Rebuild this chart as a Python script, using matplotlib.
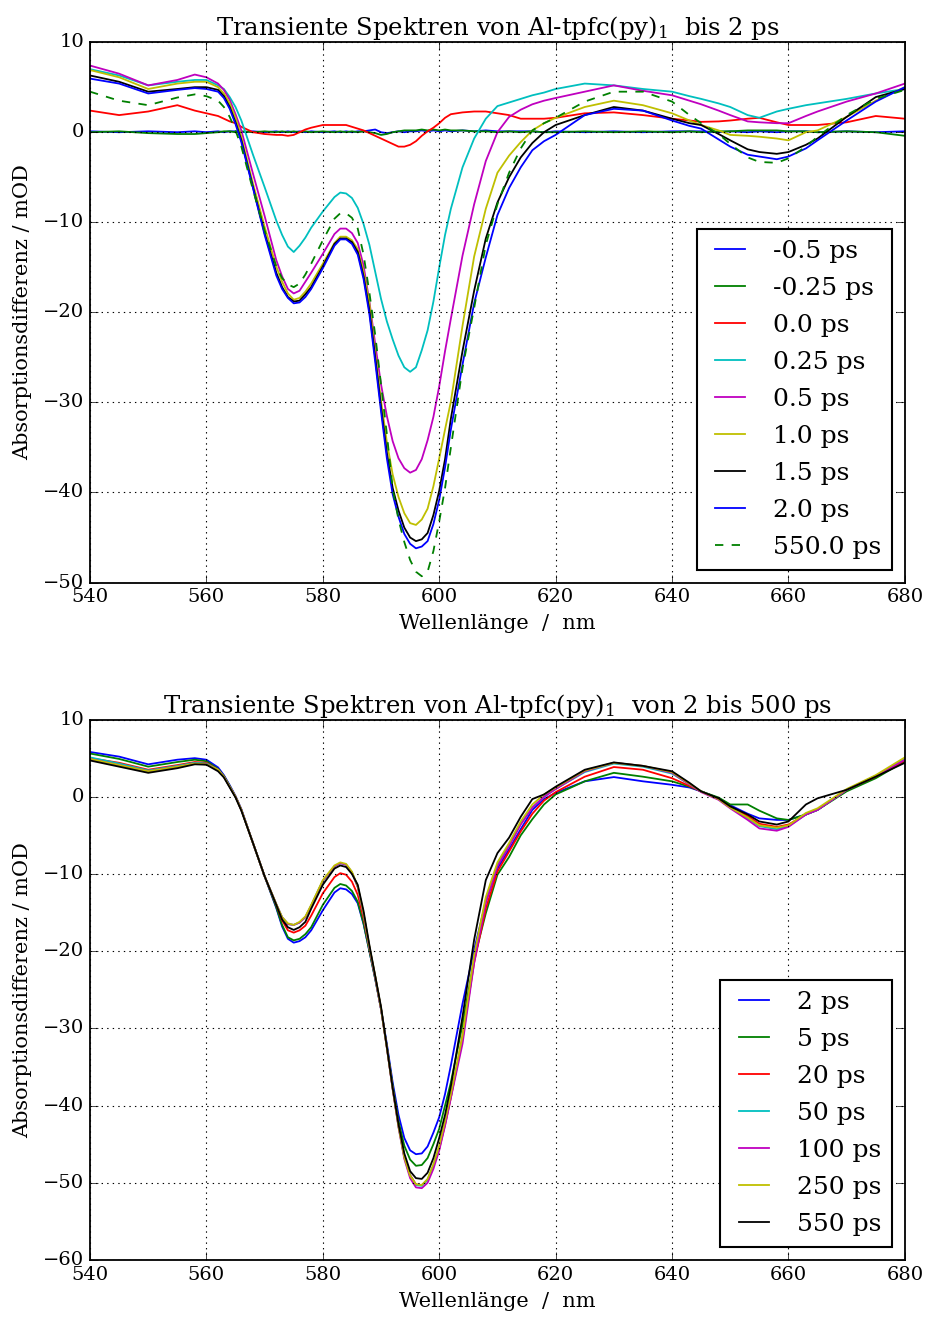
import numpy as np
import matplotlib
matplotlib.use("Agg")
import matplotlib.pyplot as plt

plt.style.use("classic")
plt.rcParams["font.family"] = ["DejaVu Serif"]
plt.rcParams["mathtext.fontset"] = "dejavuserif"
plt.rcParams["font.size"] = 14
plt.rcParams["savefig.facecolor"] = "white"
plt.rcParams["figure.facecolor"] = "white"

# wavelength grid (nm), shared by every spectrum
wl = [540, 545, 550, 555, 558, 560,
      562, 563, 564, 565, 566,
      568, 570, 572, 573, 574, 575, 576, 577, 578,
      580, 582, 583, 584, 585, 586, 587, 588, 589, 590,
      591, 592, 593, 594, 595, 596, 597, 598, 599, 600, 601, 602,
      604, 606, 608, 610, 612, 614, 616, 618, 620,
      625, 630, 635, 640, 643, 645, 648, 650, 653, 655, 658, 660, 663, 665, 670, 675, 680]

# ---- top panel: up to 2 ps (mOD) ----
t_m050 = [0.1, 0.0, 0.1, 0.0, 0.1, 0.0,
          0.1, 0.0, 0.1, 0.1, 0.0,
          0.1, 0.0, 0.1, 0.0, 0.1, 0.0, 0.1, 0.0, 0.1,
          0.0, 0.1, 0.0, 0.1, 0.0, 0.1, 0.1, 0.2, 0.3, 0.0,
          -0.1, 0.0, 0.1, 0.0, 0.1, 0.1, 0.2, 0.1, 0.2, 0.1, 0.2, 0.1,
          0.2, 0.1, 0.2, 0.1, 0.1, 0.1, 0.1, 0.0, 0.1,
          0.0, 0.1, 0.0, 0.1, 0.1, 0.1, 0.0, 0.1, 0.0, 0.1, 0.0, 0.1, 0.1, 0.0, 0.1, 0.0, 0.1]
t_m025 = [0.0, 0.1, -0.1, -0.2, -0.2, -0.1,
          0.0, 0.1, 0.1, 0.0, 0.1,
          0.0, 0.1, 0.0, 0.1, 0.0, 0.1, 0.0, 0.1, 0.0,
          0.1, 0.0, 0.1, 0.0, 0.1, 0.0, 0.1, 0.0, -0.1, -0.3,
          -0.2, 0.0, 0.1, 0.2, 0.2, 0.2, 0.3, 0.2, 0.3, 0.2, 0.3, 0.2,
          0.2, 0.1, 0.1, 0.0, 0.1, 0.0, 0.1, 0.0, 0.0,
          0.1, 0.0, 0.1, 0.0, 0.1, 0.0, 0.1, 0.1, 0.2, 0.2, 0.2, 0.1, 0.1, 0.0, 0.1, 0.0, -0.4]
t_000 = [2.4, 1.9, 2.3, 3.0, 2.4, 2.1,
         1.8, 1.5, 1.2, 1.0, 0.6,
         0.0, -0.2, -0.3, -0.3, -0.4, -0.3, 0.0, 0.3, 0.5,
         0.8, 0.8, 0.8, 0.8, 0.6, 0.4, 0.2, -0.1, -0.4, -0.7,
         -1.0, -1.3, -1.6, -1.6, -1.4, -1.0, -0.4, 0.1, 0.5, 1.0, 1.6, 2.0,
         2.2, 2.3, 2.3, 2.1, 1.9, 1.5, 1.5, 1.5, 1.6,
         2.1, 2.2, 1.9, 1.5, 1.3, 1.15, 1.2, 1.3, 1.5, 1.6, 1.1, 0.8, 0.8, 0.8, 1.1, 1.8, 1.5]
t_025 = [7.0, 6.3, 5.2, 5.6, 5.8, 5.8,
         5.2, 4.8, 3.9, 2.8, 1.3,
         -2.5, -6.1, -9.8, -11.4, -12.7, -13.3, -12.6, -11.7, -10.6,
         -8.8, -7.2, -6.7, -6.8, -7.3, -8.4, -10.2, -12.5, -15.5, -18.5,
         -21.0, -23.0, -24.8, -26.1, -26.6, -26.1, -24.2, -22.0, -18.8, -15.0, -11.4, -8.5,
         -3.9, -0.7, 1.5, 2.9, 3.3, 3.7, 4.1, 4.4, 4.8,
         5.4, 5.2, 4.8, 4.5, 4.0, 3.7, 3.2, 2.8, 1.9, 1.6, 2.3, 2.6, 3.0, 3.2, 3.7, 4.3, 4.8]
t_050 = [7.4, 6.5, 5.2, 5.8, 6.4, 6.1,
         5.4, 4.7, 3.6, 2.0, 0.2,
         -4.6, -9.3, -14.2, -16.0, -17.4, -17.9, -17.6, -16.6, -15.6,
         -13.5, -11.3, -10.7, -10.7, -11.2, -12.3, -14.8, -18.8, -23.5, -28.0,
         -31.5, -34.3, -36.2, -37.3, -37.8, -37.5, -36.3, -34.2, -31.6, -28.2, -24.3, -20.7,
         -13.7, -8.0, -3.2, 0.0, 1.7, 2.5, 3.1, 3.5, 3.8,
         4.5, 5.2, 4.6, 4.1, 3.5, 3.1, 2.4, 1.9, 1.2, 1.1, 1.0, 1.0, 1.8, 2.3, 3.4, 4.3, 5.4]
t_100 = [6.9, 6.1, 4.8, 5.4, 5.6, 5.6,
         5.0, 4.3, 3.2, 1.6, -0.5,
         -5.7, -10.5, -14.9, -16.6, -17.9, -18.6, -18.4, -17.7, -16.8,
         -14.6, -12.3, -11.6, -11.6, -12.0, -13.0, -15.5, -19.0, -24.5, -29.8,
         -34.4, -38.0, -40.5, -42.3, -43.4, -43.6, -43.0, -41.8, -39.3, -36.2, -33.0, -29.9,
         -21.5, -13.8, -8.5, -4.5, -2.6, -1.1, 0.2, 1.0, 1.6,
         2.8, 3.5, 3.0, 2.1, 1.3, 0.8, 0.2, -0.3, -0.4, -0.5, -0.7, -0.9, 0.0, 0.2, 1.7, 3.5, 5.0]
t_150 = [6.3, 5.6, 4.5, 4.8, 5.0, 5.0,
         4.7, 4.0, 2.8, 1.1, -0.9,
         -6.1, -11.2, -15.6, -17.2, -18.3, -18.8, -18.7, -18.0, -17.2,
         -14.9, -12.4, -11.8, -11.8, -12.2, -13.3, -16.0, -19.8, -25.0, -30.5,
         -35.6, -39.5, -42.0, -43.9, -45.0, -45.4, -45.2, -44.5, -42.5, -39.8, -36.3, -31.8,
         -24.3, -17.6, -11.8, -7.8, -5.0, -2.8, -1.2, 0.0, 0.8,
         1.9, 2.8, 2.4, 1.5, 1.0, 0.8, -0.2, -0.9, -1.9, -2.2, -2.4, -2.2, -1.4, -0.7, 1.7, 3.9, 4.8]
t_200 = [5.95, 5.4, 4.3, 4.7, 4.9, 4.8,
         4.5, 3.8, 2.6, 0.9, -1.1,
         -6.2, -11.4, -15.9, -17.4, -18.4, -19.0, -18.9, -18.3, -17.4,
         -15.1, -12.6, -11.9, -11.9, -12.4, -13.6, -16.3, -20.2, -25.5, -31.0,
         -36.2, -40.2, -42.7, -44.6, -45.7, -46.2, -46.0, -45.4, -43.5, -40.8, -37.2, -33.0,
         -25.8, -19.0, -13.9, -9.2, -6.2, -3.9, -2.0, -1.0, -0.3,
         1.9, 2.6, 2.4, 1.3, 0.7, 0.4, -0.8, -1.6, -2.5, -2.7, -3.0, -2.7, -1.8, -0.9, 1.3, 3.4, 5.0]
t_5500 = [4.5, 3.5, 3.0, 3.85, 4.2, 4.0,
          3.5, 2.8, 1.7, 0.2, -1.6,
          -6.4, -10.9, -14.9, -16.2, -16.9, -17.2, -16.8, -15.8, -14.6,
          -12.0, -9.6, -9.0, -9.0, -9.5, -10.7, -13.6, -17.8, -22.5, -28.0,
          -33.5, -39.6, -43.0, -45.5, -47.5, -48.8, -49.3, -48.8, -46.5, -43.2, -39.5, -35.0,
          -26.2, -19.5, -12.5, -8.0, -4.5, -1.8, 0.2, 1.0, 1.6,
          3.4, 4.5, 4.5, 3.4, 1.9, 1.0, -0.2, -1.3, -2.8, -3.3, -3.4, -2.9, -1.6, -0.5, 1.9, 3.7, 4.7]

top_labels = ["-0.5 ps", "-0.25 ps", "0.0 ps", "0.25 ps", "0.5 ps",
              "1.0 ps", "1.5 ps", "2.0 ps", "550.0 ps"]
top_series = [t_m050, t_m025, t_000, t_025, t_050, t_100, t_150, t_200, t_5500]
top_colors = ["b", "g", "r", "c", "m", "y", "k", "b", "g"]

# ---- bottom panel: 2 to 550 ps (mOD) ----
b_2 = [5.8, 5.2, 4.2, 4.8, 5.0, 4.8,
       3.8, 2.8, 1.5, 0.1, -1.6,
       -6.0, -10.3, -14.4, -16.8, -18.4, -18.9, -18.7, -18.2, -17.3,
       -14.7, -12.4, -11.85, -12.0, -12.6, -13.8, -16.5, -20.0, -23.6, -27.5,
       -32.0, -37.0, -41.2, -44.2, -45.8, -46.3, -46.2, -45.3, -43.5, -41.5, -38.5, -34.8,
       -26.8, -19.8, -13.6, -9.3, -6.8, -4.2, -1.7, -0.3, 0.5,
       2.0, 2.55, 2.0, 1.55, 1.2, 0.7, -0.2, -1.1, -2.2, -2.8, -3.0, -3.0, -2.3, -1.7, 0.9, 2.6, 4.8]
b_5 = [5.6, 4.9, 3.9, 4.5, 4.8, 4.6,
       3.6, 2.7, 1.4, 0.0, -1.7,
       -6.0, -10.3, -14.3, -16.6, -18.2, -18.6, -18.4, -17.8, -16.9,
       -14.0, -11.8, -11.3, -11.5, -12.2, -13.6, -16.4, -20.0, -23.6, -27.5,
       -32.3, -37.4, -42.0, -45.2, -47.0, -47.8, -47.7, -46.8, -45.0, -43.0, -40.0, -37.0,
       -29.5, -21.0, -15.1, -10.1, -7.8, -5.0, -2.9, -1.0, 0.3,
       2.0, 3.1, 2.6, 2.0, 1.3, 0.7, -0.1, -1.0, -1.0, -1.8, -2.8, -3.0, -2.3, -1.7, 0.7, 2.4, 4.6]
b_20 = [5.0, 4.4, 3.5, 4.1, 4.5, 4.4,
        3.5, 2.6, 1.3, 0.0, -1.7,
        -6.0, -10.3, -14.0, -16.0, -17.3, -17.6, -17.3, -16.7, -15.4,
        -12.5, -10.4, -9.9, -10.1, -11.0, -12.7, -15.7, -19.6, -23.4, -27.5,
        -32.5, -37.8, -42.6, -46.6, -49.0, -50.2, -50.3, -49.6, -47.8, -45.6, -42.5, -39.0,
        -31.0, -21.5, -14.5, -9.7, -7.1, -4.5, -2.2, -0.5, 0.6,
        2.6, 3.85, 3.5, 2.4, 1.4, 0.7, -0.3, -1.3, -2.5, -3.5, -3.9, -3.6, -2.3, -1.7, 0.9, 2.6, 4.7]
b_50 = [5.1, 4.3, 3.4, 4.0, 4.4, 4.3,
        3.5, 2.6, 1.3, 0.0, -1.7,
        -6.0, -10.3, -13.9, -15.6, -16.5, -16.6, -16.3, -15.6, -14.1,
        -10.9, -9.0, -8.6, -8.8, -9.8, -11.7, -15.2, -19.5, -23.3, -27.5,
        -32.5, -37.8, -42.7, -46.7, -49.1, -50.3, -50.4, -49.6, -47.8, -45.5, -42.3, -38.8,
        -31.5, -21.0, -13.3, -8.8, -6.2, -3.5, -1.4, 0.0, 1.0,
        3.2, 4.3, 3.9, 3.0, 1.6, 0.7, -0.3, -1.4, -2.8, -3.8, -4.2, -3.8, -2.3, -1.7, 0.9, 2.7, 4.9]
b_100 = [4.9, 4.1, 3.3, 3.9, 4.3, 4.2,
         3.5, 2.6, 1.3, 0.0, -1.7,
         -6.0, -10.3, -13.9, -15.6, -16.5, -16.6, -16.3, -15.6, -14.1,
         -10.9, -9.0, -8.6, -8.8, -9.8, -11.7, -15.2, -19.5, -23.3, -27.5,
         -32.5, -37.9, -42.8, -46.9, -49.4, -50.6, -50.7, -50.0, -48.2, -45.8, -42.6, -39.0,
         -32.0, -21.5, -13.7, -9.0, -6.4, -3.6, -1.4, 0.0, 1.0,
         3.3, 4.4, 4.0, 3.1, 1.6, 0.6, -0.4, -1.5, -3.0, -4.1, -4.4, -3.9, -2.3, -1.7, 0.9, 2.7, 4.8]
b_250 = [4.9, 4.1, 3.3, 3.9, 4.3, 4.2,
         3.5, 2.6, 1.3, 0.0, -1.7,
         -6.0, -10.3, -13.9, -15.6, -16.4, -16.6, -16.2, -15.5, -14.0,
         -10.8, -8.9, -8.5, -8.7, -9.7, -11.6, -15.1, -19.4, -23.2, -27.4,
         -32.5, -37.8, -42.7, -46.7, -49.1, -50.2, -50.3, -49.5, -47.6, -45.2, -42.0, -38.5,
         -31.0, -20.5, -13.0, -8.5, -6.0, -3.2, -1.0, 0.3, 1.2,
         3.4, 4.4, 4.0, 3.2, 1.7, 0.7, -0.3, -1.4, -2.7, -3.7, -4.0, -3.7, -2.1, -1.5, 1.0, 2.8, 5.1]
b_550 = [4.7, 3.9, 3.1, 3.7, 4.2, 4.15,
         3.3, 2.5, 1.2, -0.1, -1.8,
         -6.0, -10.3, -14.0, -15.9, -16.9, -17.25, -16.9, -16.2, -14.5,
         -11.4, -9.3, -8.9, -9.1, -10.0, -11.4, -14.8, -19.2, -23.2, -27.2,
         -32.4, -37.7, -42.4, -46.2, -48.5, -49.4, -49.5, -48.7, -46.8, -44.2, -41.2, -37.5,
         -28.5, -18.5, -10.8, -7.3, -5.3, -2.6, -0.3, 0.3, 1.3,
         3.5, 4.45, 4.0, 3.3, 1.8, 0.7, -0.2, -1.25, -2.3, -3.2, -3.6, -3.2, -1.0, -0.2, 0.9, 2.6, 4.4]

bot_labels = ["2 ps", "5 ps", "20 ps", "50 ps", "100 ps", "250 ps", "550 ps"]
bot_series = [b_2, b_5, b_20, b_50, b_100, b_250, b_550]
bot_colors = ["b", "g", "r", "c", "m", "y", "k"]

for s in top_series + bot_series:
    assert len(s) == len(wl)

fig, (ax1, ax2) = plt.subplots(2, 1, figsize=(9.29, 13.17), dpi=100)
fig.subplots_adjust(left=0.0969, right=0.974, top=0.968, bottom=0.0433, hspace=0.2535)

for y, lab, c in zip(top_series, top_labels, top_colors):
    ls = "--" if lab == "550.0 ps" else "-"
    ax1.plot(wl, y, color=c, ls=ls, lw=1.3, label=lab)
for y, lab, c in zip(bot_series, bot_labels, bot_colors):
    ax2.plot(wl, y, color=c, lw=1.3, label=lab)

ax1.set_title("Transiente Spektren von Al-tpfc(py)$_1$  bis 2 ps", fontsize=17.5)
ax2.set_title("Transiente Spektren von Al-tpfc(py)$_1$  von 2 bis 500 ps", fontsize=17.5)
ax1.set_ylim(-50, 10)
ax2.set_ylim(-60, 10)
for ax in (ax1, ax2):
    ax.set_xlim(540, 680)
    ax.set_xticks(np.arange(540, 681, 20))
    ax.set_xlabel("Wellenlänge  /  nm", fontsize=15, labelpad=6)
    ax.set_ylabel("Absorptionsdifferenz / mOD", fontsize=15, labelpad=8)
    ax.grid(True, color="k", ls=":", lw=0.8)
    ax.tick_params(direction="in", length=6, labelsize=14, top=True, right=True)
    for s in ax.spines.values():
        s.set_linewidth(1.3)
    leg = ax.legend(loc="lower right", fontsize=18, fancybox=False, handlelength=1.8,
                    labelspacing=0.56, handletextpad=0.8, borderpad=0.45)
    leg.get_frame().set_linewidth(1.5)
    leg.get_frame().set_edgecolor("k")

fig.savefig("out.png", dpi=100)
